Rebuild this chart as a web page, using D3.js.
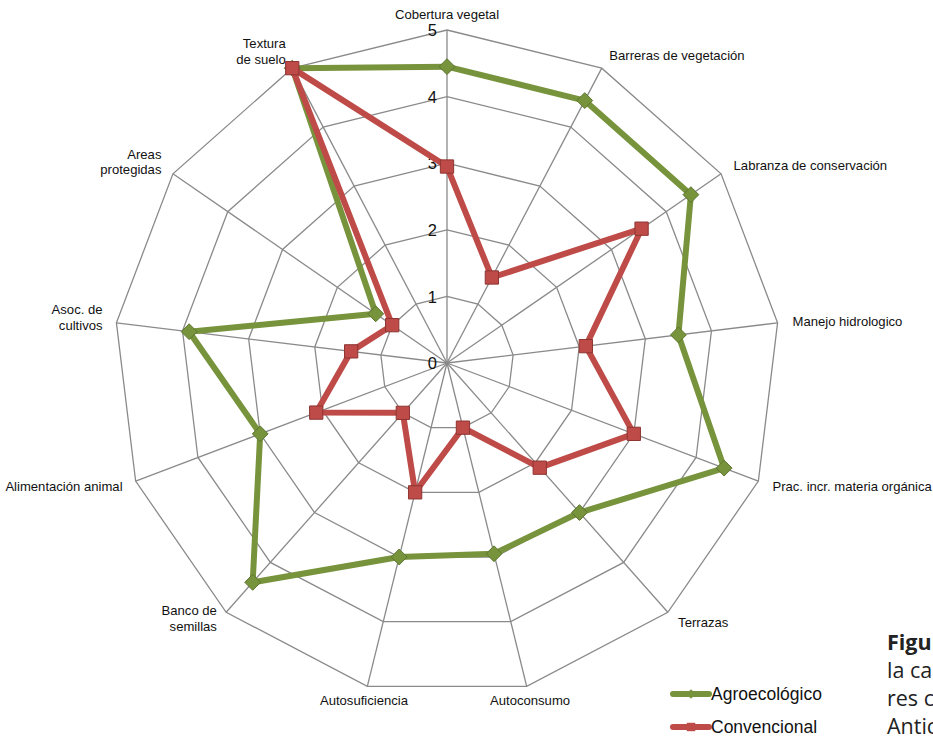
<!DOCTYPE html>
<html>
<head>
<meta charset="utf-8">
<script src="https://cdn.jsdelivr.net/npm/d3@7"></script>
<style>
  body { margin: 0; background: #fff; overflow: hidden; }
  svg { display: block; font-family: "Liberation Sans", Arial, sans-serif; }
</style>
</head>
<body>
<script>
const categories = [
  'Cobertura vegetal', 'Barreras de vegetación', 'Labranza de conservación', 'Manejo hidrologico',
  'Prac. incr. materia orgánica', 'Terrazas', 'Autoconsumo', 'Autosuficiencia',
  'Banco de\nsemillas', 'Alimentación animal', 'Asoc. de\ncultivos', 'Areas\nprotegidas', 'Textura\nde suelo'
];
const agroecologico = [4.45, 4.45, 4.45, 3.5, 4.45, 3, 2.95, 3, 4.4, 3, 3.9, 1.3, 5];
const convencional = [2.95, 1.45, 3.55, 2.1, 3, 2.1, 1, 2, 1, 2.1, 1.45, 1, 5];
const ticks = [0, 1, 2, 3, 4, 5];
const seriesNames = ['Agroecológico', 'Convencional'];

const width = 933;
const height = 739;
const cx = 447;
const cy = 363;
const radius = 333;
const green = '#77933c';
const red = '#be4b48';

const svg = d3.select('body').append('svg').attr('width', width).attr('height', height);

const rScale = d3.scaleLinear().domain([0, 5]).range([0, radius]);
const angle = d3.scaleLinear().domain([0, categories.length]).range([0, 2 * Math.PI]);

const chart = svg.append('g').attr('transform', `translate(${cx},${cy})`);

// rings
const ring = d3.lineRadial().angle((d, i) => angle(i)).radius((d) => rScale(d)).curve(d3.curveLinearClosed);
chart
  .selectAll('.ring')
  .data(ticks.slice(1))
  .enter()
  .append('path')
  .attr('d', (t) => ring(categories.map(() => t)))
  .attr('fill', 'none')
  .attr('stroke', '#8a8a8a')
  .attr('stroke-width', 1.3);

// spokes
chart
  .selectAll('.spoke')
  .data(categories)
  .enter()
  .append('line')
  .attr('x1', 0)
  .attr('y1', 0)
  .attr('x2', (d, i) => rScale(5) * Math.sin(angle(i)))
  .attr('y2', (d, i) => -rScale(5) * Math.cos(angle(i)))
  .attr('stroke', '#8a8a8a')
  .attr('stroke-width', 1.3);

// tick labels
chart
  .selectAll('.tick')
  .data(ticks)
  .enter()
  .append('text')
  .attr('x', -10)
  .attr('y', (d) => -rScale(d))
  .attr('dy', '0.38em')
  .attr('text-anchor', 'end')
  .attr('font-size', 16.5)
  .attr('fill', '#111')
  .text((d) => d);

// category labels
categories.forEach((c, i) => {
  const a = angle(i);
  const s = Math.sin(a);
  const r = rScale(5) + 14;
  const lines = c.split('\n');
  const anchor = Math.abs(s) < 0.3 ? 'middle' : s > 0 ? 'start' : 'end';
  const x = r * s + (anchor === 'start' ? 1 : 0);
  const y = -r * Math.cos(a) - (lines.length > 1 ? 4 : i === 0 ? 2 : 0);
  const t = chart
    .append('text')
    .attr('x', x)
    .attr('y', y)
    .attr('text-anchor', anchor)
    .attr('font-size', 13.1)
    .attr('fill', '#111');
  lines.forEach((l, j) => {
    t.append('tspan')
      .attr('x', x)
      .attr('dy', j === 0 ? `${0.35 - (lines.length - 1) * 0.6}em` : '1.2em')
      .text(l);
  });
});

// series
const series = [
  { name: seriesNames[0], values: agroecologico, color: green, stroke: '#5d7530', shape: d3.symbolDiamond2 },
  { name: seriesNames[1], values: convencional, color: red, stroke: '#8e3532', shape: d3.symbolSquare2 }
];
const line = d3.lineRadial().angle((d, i) => angle(i)).radius((d) => rScale(d)).curve(d3.curveLinearClosed);

series.forEach((s) => {
  chart
    .append('path')
    .attr('d', line(s.values))
    .attr('fill', 'none')
    .attr('stroke', s.color)
    .attr('stroke-width', 6)
    .attr('stroke-linejoin', 'round');
  chart
    .selectAll(null)
    .data(s.values)
    .enter()
    .append('path')
    .attr('d', d3.symbol().type(s.shape).size(s.shape === d3.symbolSquare2 ? 225 : 160))
    .attr('transform', (d, i) => `translate(${rScale(d) * Math.sin(angle(i))},${-rScale(d) * Math.cos(angle(i))})`)
    .attr('fill', s.color)
    .attr('stroke', s.stroke)
    .attr('stroke-width', 1);
});

// legend
const legend = svg.append('g').attr('transform', 'translate(673,694)');
series.forEach((s, i) => {
  const g = legend.append('g').attr('transform', `translate(0,${i * 33})`);
  g.append('line')
    .attr('x1', 0)
    .attr('x2', 36)
    .attr('stroke', s.color)
    .attr('stroke-width', 6)
    .attr('stroke-linecap', 'round');
  g.append('path')
    .attr('d', d3.symbol().type(s.shape).size(s.shape === d3.symbolSquare2 ? 90 : 60))
    .attr('transform', 'translate(18,0)')
    .attr('fill', s.color);
  g.append('text')
    .attr('x', 38)
    .attr('dy', '0.35em')
    .attr('font-size', 17.5)
    .attr('fill', '#111')
    .text(s.name);
});

// caption (cut off on the right edge, as in the source page)
const caption = svg
  .append('text')
  .attr('x', 887)
  .attr('y', 650)
  .attr('font-family', '"Open Sans", "Noto Sans", sans-serif')
  .attr('font-size', 21.5)
  .attr('fill', '#222');
caption.append('tspan').attr('font-weight', 'bold').text('Figura');
['la calificación', 'res con', 'Anticipando'].forEach((t) => {
  caption.append('tspan').attr('x', 887).attr('dy', 28).text(t);
});
</script>
</body>
</html>
